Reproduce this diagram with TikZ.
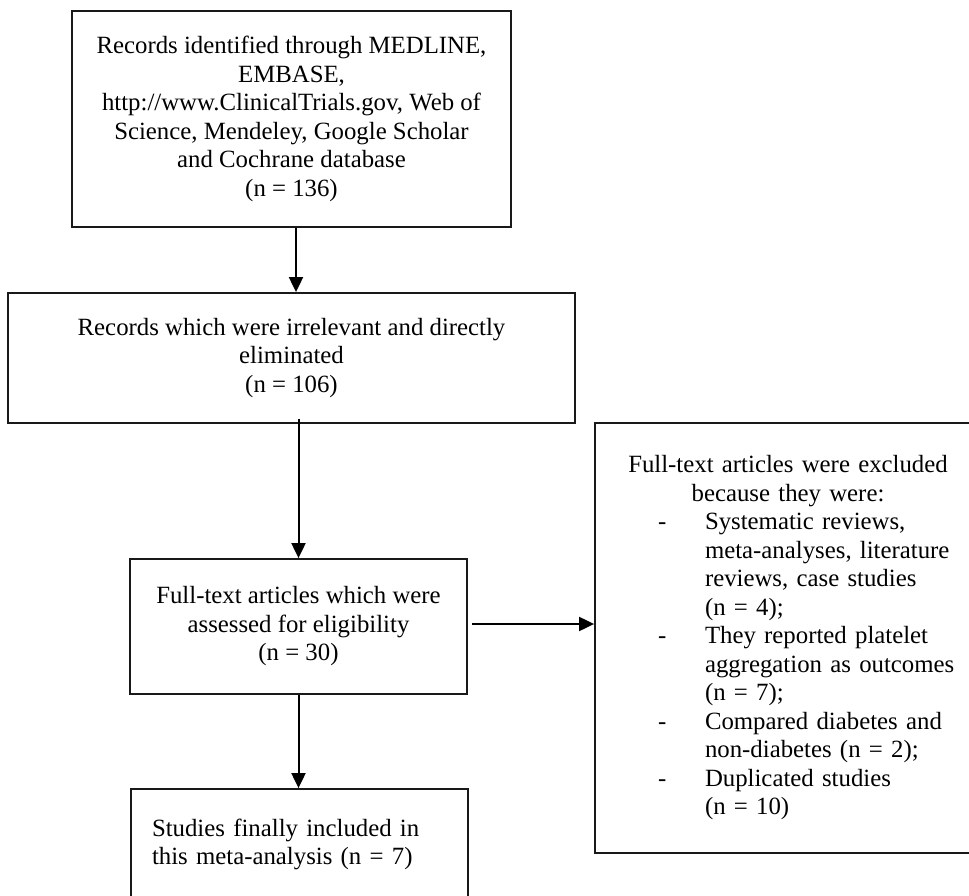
\documentclass[tikz,border=0pt]{standalone}
\usepackage{fontspec}
\setmainfont{Liberation Serif}
\usetikzlibrary{arrows.meta,calc}
\begin{document}
\begin{tikzpicture}[x=1pt,y=-1pt,
  box/.style={draw=black!90, line width=1.8pt, inner sep=0pt, align=center,
    font=\fontsize{24.8}{28.5}\selectfont},
  arr/.style={line width=2pt, -{Triangle[width=14pt,length=15pt]}}]
\useasboundingbox (0,0) rectangle (969,896);
\clip (0,0) rectangle (969,896);
\fill[white] (0,0) rectangle (969,896);

\node[box, minimum width=439pt, minimum height=216pt] (rec) at (291.5,119)
  {Records identified through MEDLINE,\\EMBASE,\\http://www.ClinicalTrials.gov, Web of\\Science, Mendeley, Google Scholar\\and Cochrane database\\(n = 136)};

\node[box, minimum width=567pt, minimum height=130pt] (irr) at (291.5,358)
  {Records which were irrelevant and directly\\eliminated\\(n = 106)};

\node[box, minimum width=337pt, minimum height=135pt] (full) at (298.5,626.5)
  {Full-text articles which were\\assessed for eligibility\\(n = 30)};

\node[box, minimum width=337pt, minimum height=111pt, text width=295pt, align=left] (incl) at (299.5,844.5)
  {Studies finally included in\\this meta-analysis (n = 7)};

\node[box, minimum width=386pt, minimum height=430pt, text width=386pt, align=left] (excl) at (788,638)
  {{\centering Full-text articles were excluded\\because they were:\par}%
   \hspace*{63pt}\makebox[47pt][l]{-}Systematic reviews,\\
   \hspace*{110pt}meta-analyses, literature\\
   \hspace*{110pt}reviews, case studies\\
   \hspace*{110pt}(n = 4);\\
   \hspace*{63pt}\makebox[47pt][l]{-}They reported platelet\\
   \hspace*{110pt}aggregation as outcomes\\
   \hspace*{110pt}(n = 7);\\
   \hspace*{63pt}\makebox[47pt][l]{-}Compared diabetes and\\
   \hspace*{110pt}non-diabetes (n = 2);\\
   \hspace*{63pt}\makebox[47pt][l]{-}Duplicated studies\\
   \hspace*{110pt}(n = 10)};

\draw[arr] ([xshift=4.5pt]rec.south) -- ([xshift=4.5pt]rec.south |- irr.north);
\draw[arr] ([yshift=5pt]irr.south -| full.north) -- (full.north);
\draw[arr] ([xshift=4pt,yshift=2.5pt]full.east) -- ([yshift=2.5pt]full.east -| excl.west);
\draw[arr] (full.south) -- (full.south |- incl.north);
\end{tikzpicture}
\end{document}
